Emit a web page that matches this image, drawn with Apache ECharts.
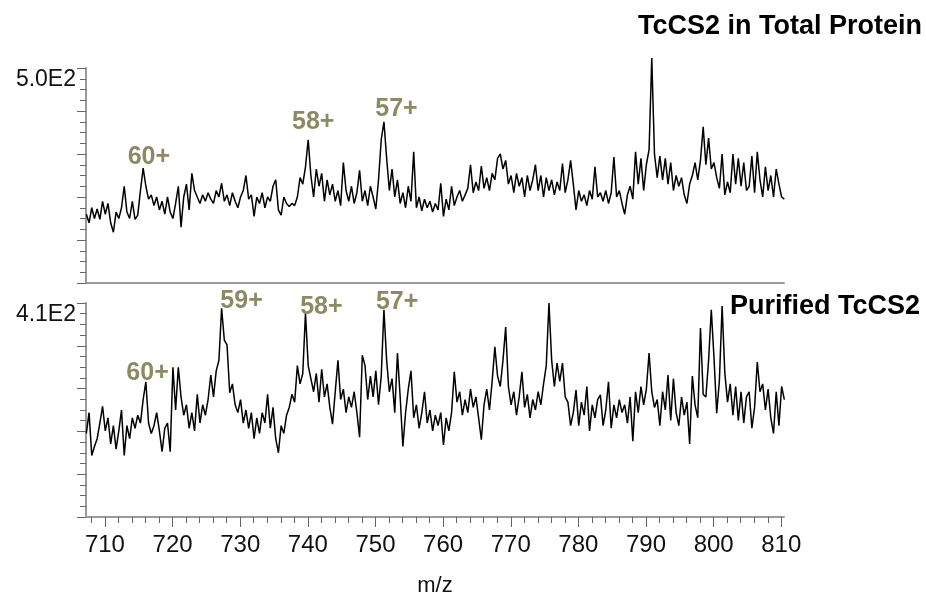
<!DOCTYPE html>
<html>
<head>
<meta charset="utf-8">
<script src="https://cdn.jsdelivr.net/npm/echarts@6/dist/echarts.min.js"></script>
<style>
  html, body { margin: 0; padding: 0; background: #fff; }
  #chart { width: 926px; height: 594px; }
</style>
</head>
<body>
<div id="chart"></div>
<script>
// m/z sampling of both spectra
const mzStart = 707.25;
const mzStep = 0.4;

// Intensities, TcCS2 in total protein
const totalProtein = [
  160,140,175,150,172,148,190,160,185,140,
  118,165,150,175,225,165,150,190,148,158,
  215,267,225,195,205,180,200,170,190,160,
  200,165,150,185,225,130,200,230,170,255,
  215,200,185,205,190,210,195,185,215,200,
  232,190,205,180,210,190,175,200,215,250,
  195,205,155,200,185,210,175,200,190,225,
  240,170,158,200,185,178,185,180,200,245,
  230,270,333,250,200,265,225,255,190,240,
  205,230,190,215,180,280,215,190,225,185,
  210,262,190,215,180,225,200,172,240,333,
  375,290,215,265,200,240,185,210,175,225,
  190,305,175,200,168,195,175,190,165,185,
  170,232,155,195,170,225,180,200,215,190,
  205,220,275,210,235,215,272,220,245,215,
  255,240,290,300,265,285,230,250,210,255,
  225,245,200,250,215,240,275,215,250,200,
  245,215,240,205,235,215,278,210,240,285,
  230,170,215,190,205,180,215,195,270,200,
  210,190,215,185,210,293,200,215,185,160,
  205,225,195,305,230,290,215,275,310,523,
  300,245,295,240,290,230,280,215,250,225,
  245,205,185,230,250,280,240,285,363,275,
  337,265,280,245,220,300,205,235,210,300,
  230,290,225,280,215,225,295,210,305,240,
  200,270,215,250,200,265,230,200,195
];

// Intensities, purified TcCS2
const purified = [
  160,200,118,135,150,180,212,165,190,140,
  175,130,165,205,118,175,150,190,170,195,
  180,225,259,180,160,175,200,165,125,170,
  180,125,287,205,287,230,195,215,170,200,
  165,235,180,215,195,225,272,230,280,300,
  400,339,330,238,255,215,200,225,180,205,
  170,200,150,190,160,200,180,235,170,210,
  150,123,175,160,195,210,235,220,290,255,
  275,391,290,265,240,275,220,283,230,255,
  210,178,240,300,225,245,200,230,210,240,
  200,153,310,290,225,270,230,280,215,270,
  397,300,240,265,200,314,230,135,200,245,
  280,190,215,170,200,240,180,205,165,195,
  175,200,138,190,165,200,278,220,240,195,
  225,200,245,210,230,190,148,215,245,205,
  260,326,270,250,300,364,250,215,240,195,
  230,278,210,235,190,225,205,240,215,255,
  290,410,300,250,295,260,295,230,220,175,
  200,243,175,220,195,250,165,215,190,225,
  234,175,205,259,170,215,190,225,200,215,
  180,230,145,240,200,250,215,245,314,240,
  210,225,175,240,205,272,185,265,200,175,
  230,195,220,140,270,215,190,362,235,230,
  300,397,305,199,262,404,276,220,255,195,
  250,185,240,180,230,240,170,210,297,240,
  255,205,245,190,160,240,175,250,225
];

// Charge-state annotations, anchored just under each label (m/z, intensity)
const totalLabels = [
  { text: '60+', mz: 716.5, y: 270 },
  { text: '58+', mz: 740.8, y: 351 },
  { text: '57+', mz: 753.1, y: 381 }
];
const purifiedLabels = [
  { text: '60+', mz: 716.3, y: 257 },
  { text: '59+', mz: 730.2, y: 395 },
  { text: '58+', mz: 742.0, y: 383 },
  { text: '57+', mz: 753.2, y: 393 }
];

// Axis ranges and ticks
const mzMin = 707.2, mzMax = 810.4;
const majorTicks = [710, 720, 730, 740, 750, 760, 770, 780, 790, 800, 810];
const minorTicks = [];
for (let v = 708; v <= 810; v += 2) minorTicks.push(v);
const totalMax = 500, purifiedMax = 410;

const FONT = '"Liberation Sans", Arial, Helvetica, sans-serif';
const AXIS_GRAY = '#9a9a9a';
const TICK_GRAY = '#666';
const LABEL_OLIVE = '#8a8b62';

function toPairs(values) {
  return values.map((v, i) => [mzStart + i * mzStep, v]);
}

function labelPoints(list) {
  return list.map(l => ({
    coord: [l.mz, l.y],
    symbol: 'circle',
    symbolSize: 0,
    label: {
      show: true, position: 'inside', offset: [0, -10], formatter: l.text,
      color: LABEL_OLIVE, fontSize: 25, fontWeight: 'bold', fontFamily: FONT
    }
  }));
}

function yAxisFor(gridIndex, max, text) {
  return {
    type: 'value', gridIndex, min: 0, max, interval: max / 5,
    axisLine: { show: true, lineStyle: { color: AXIS_GRAY, width: 2 } },
    axisTick: { show: true, length: 9, lineStyle: { color: TICK_GRAY, width: 1 } },
    minorTick: { show: true, splitNumber: 4, length: 6, lineStyle: { color: TICK_GRAY, width: 1 } },
    splitLine: { show: false },
    axisLabel: {
      show: true, margin: 10, fontSize: 23, color: '#111', fontFamily: FONT,
      verticalAlign: 'top',
      formatter: v => (v === max ? text : '')
    }
  };
}

const chart = echarts.init(document.getElementById('chart'), null, { renderer: 'canvas' });
chart.setOption({
  animation: false,
  backgroundColor: '#fff',
  title: [
    { text: 'TcCS2 in Total Protein', right: 4, top: 13, padding: 0,
      textStyle: { fontSize: 27, fontWeight: 'bold', color: '#000', fontFamily: FONT } },
    { text: 'Purified TcCS2', right: 6, top: 293, padding: 0,
      textStyle: { fontSize: 27, fontWeight: 'bold', color: '#000', fontFamily: FONT } }
  ],
  grid: [
    { left: 86, top: 68, width: 698, height: 215, outerBoundsMode: 'none', containLabel: false },
    { left: 86, top: 303, width: 698, height: 214, outerBoundsMode: 'none', containLabel: false }
  ],
  xAxis: [
    { type: 'value', gridIndex: 0, min: mzMin, max: mzMax, position: 'bottom',
      axisLine: { show: true, onZero: false, lineStyle: { color: AXIS_GRAY, width: 2 } },
      axisTick: { show: false }, axisLabel: { show: false }, splitLine: { show: false } },
    { type: 'value', gridIndex: 1, min: mzMin, max: mzMax, position: 'bottom',
      name: 'm/z', nameLocation: 'middle', nameGap: 58,
      nameTextStyle: { fontSize: 22, color: '#111', fontFamily: FONT },
      axisLine: { show: true, onZero: false, lineStyle: { color: AXIS_GRAY, width: 2 } },
      axisTick: { show: true, length: 10, customValues: majorTicks, lineStyle: { color: TICK_GRAY, width: 1 } },
      axisLabel: { show: true, customValues: majorTicks, margin: 16, fontSize: 24, color: '#111', fontFamily: FONT },
      splitLine: { show: false } },
    { type: 'value', gridIndex: 1, min: mzMin, max: mzMax, position: 'bottom', offset: 0,
      axisLine: { show: true, onZero: false, lineStyle: { color: 'rgba(0,0,0,0)', width: 0 } },
      axisTick: { show: true, length: 6, customValues: minorTicks, lineStyle: { color: TICK_GRAY, width: 1 } },
      axisLabel: { show: false }, splitLine: { show: false } }
  ],
  yAxis: [
    yAxisFor(0, totalMax, '5.0E2'),
    yAxisFor(1, purifiedMax, '4.1E2')
  ],
  series: [
    { type: 'line', xAxisIndex: 0, yAxisIndex: 0, data: toPairs(totalProtein),
      showSymbol: false, clip: false, lineStyle: { color: '#000', width: 1.5 },
      markPoint: { data: labelPoints(totalLabels) } },
    { type: 'line', xAxisIndex: 1, yAxisIndex: 1, data: toPairs(purified),
      showSymbol: false, clip: false, lineStyle: { color: '#000', width: 1.5 },
      markPoint: { data: labelPoints(purifiedLabels) } }
  ]
});
</script>
</body>
</html>
